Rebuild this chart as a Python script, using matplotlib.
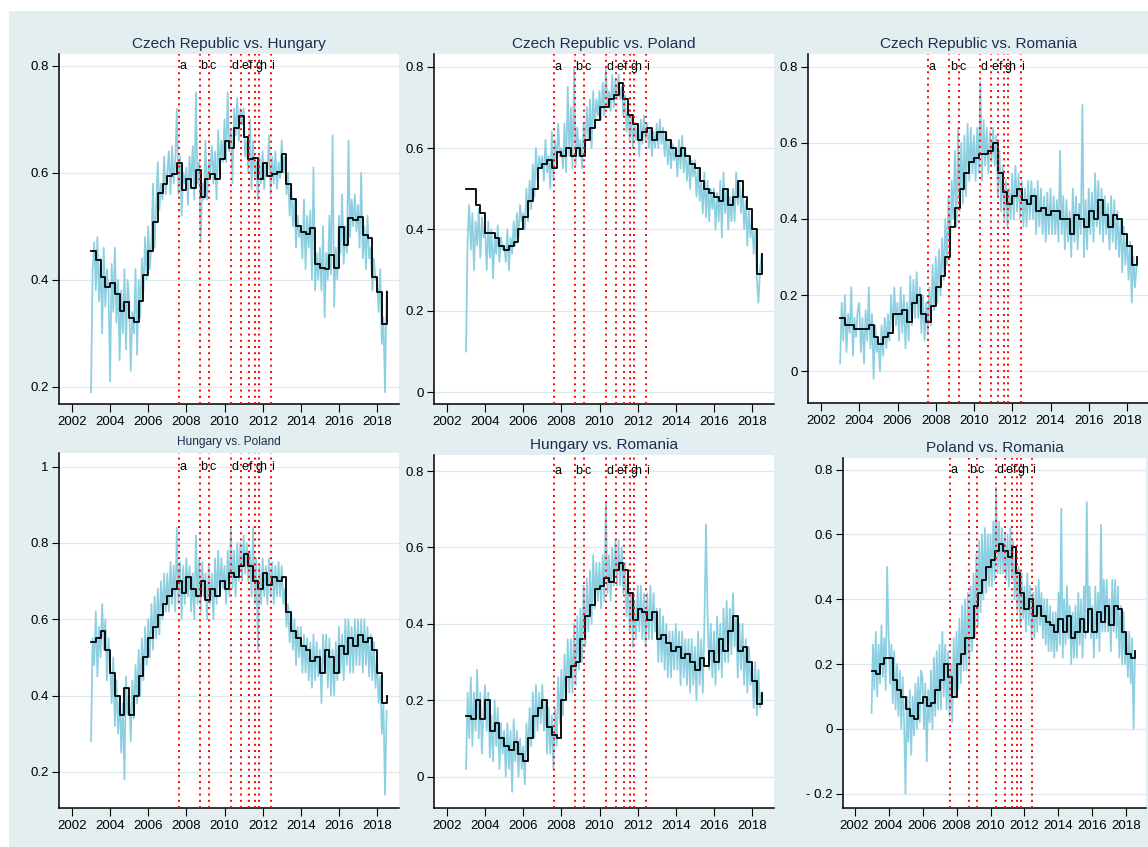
import numpy as np
import pandas as pd
import matplotlib
matplotlib.use("Agg")
import matplotlib.pyplot as plt

# ---------------- data ----------------
titles = ["Czech Republic vs. Hungary", "Czech Republic vs. Poland", "Czech Republic vs. Romania",
          "Hungary vs. Poland", "Hungary vs. Romania", "Poland vs. Romania"]

event_labels = ["a", "b", "c", "d", "e", "f", "g", "h", "i"]
event_dates = [2007.61, 2008.71, 2009.20, 2010.33, 2010.88, 2011.27, 2011.58, 2011.79, 2012.44]

x_ticks = [2002, 2004, 2006, 2008, 2010, 2012, 2014, 2016, 2018]

# quarterly series (2003Q1 ... 2018Q3)
cz_hu_quarterly = [0.453, 0.437, 0.406, 0.386, 0.395, 0.373, 0.342, 0.358, 0.328, 0.322, 0.360, 0.409,
                   0.453, 0.508, 0.562, 0.579, 0.594, 0.598, 0.618, 0.568, 0.588, 0.571, 0.605, 0.554,
                   0.589, 0.598, 0.588, 0.626, 0.660, 0.646, 0.683, 0.707, 0.667, 0.626, 0.627, 0.589,
                   0.618, 0.594, 0.598, 0.602, 0.635, 0.579, 0.551, 0.501, 0.489, 0.486, 0.496, 0.429,
                   0.423, 0.421, 0.446, 0.423, 0.498, 0.465, 0.516, 0.511, 0.517, 0.483, 0.479, 0.405,
                   0.377, 0.317, 0.378]
cz_pl_quarterly = [0.50, 0.50, 0.46, 0.44, 0.39, 0.39, 0.38, 0.36, 0.35, 0.36, 0.37, 0.40,
                   0.43, 0.47, 0.50, 0.55, 0.56, 0.57, 0.55, 0.59, 0.58, 0.60, 0.58, 0.60,
                   0.58, 0.62, 0.65, 0.67, 0.70, 0.70, 0.72, 0.73, 0.76, 0.72, 0.68, 0.66,
                   0.62, 0.64, 0.65, 0.62, 0.64, 0.64, 0.62, 0.60, 0.58, 0.60, 0.58, 0.56,
                   0.55, 0.52, 0.50, 0.49, 0.48, 0.47, 0.50, 0.46, 0.48, 0.52, 0.48, 0.45,
                   0.40, 0.29, 0.34]
cz_ro_quarterly = [0.14, 0.12, 0.12, 0.11, 0.11, 0.11, 0.12, 0.09, 0.07, 0.09, 0.10, 0.15,
                   0.15, 0.16, 0.13, 0.18, 0.20, 0.15, 0.13, 0.17, 0.22, 0.25, 0.30, 0.38,
                   0.43, 0.48, 0.52, 0.55, 0.56, 0.57, 0.57, 0.58, 0.60, 0.52, 0.47, 0.44,
                   0.46, 0.48, 0.45, 0.44, 0.46, 0.42, 0.43, 0.41, 0.42, 0.42, 0.40, 0.40,
                   0.36, 0.41, 0.40, 0.38, 0.42, 0.40, 0.45, 0.41, 0.38, 0.41, 0.40, 0.36,
                   0.33, 0.28, 0.30]
hu_pl_quarterly = [0.54, 0.55, 0.57, 0.52, 0.46, 0.40, 0.35, 0.42, 0.35, 0.40, 0.45, 0.50,
                   0.55, 0.58, 0.61, 0.64, 0.66, 0.68, 0.70, 0.67, 0.71, 0.68, 0.66, 0.70,
                   0.65, 0.68, 0.66, 0.70, 0.68, 0.72, 0.71, 0.74, 0.77, 0.74, 0.70, 0.68,
                   0.72, 0.69, 0.71, 0.70, 0.71, 0.62, 0.57, 0.55, 0.53, 0.52, 0.49, 0.50,
                   0.46, 0.52, 0.50, 0.46, 0.53, 0.51, 0.55, 0.53, 0.56, 0.54, 0.55, 0.52,
                   0.46, 0.38, 0.40]
hu_ro_quarterly = [0.16, 0.15, 0.20, 0.15, 0.20, 0.12, 0.14, 0.10, 0.08, 0.07, 0.09, 0.06,
                   0.04, 0.10, 0.16, 0.18, 0.20, 0.13, 0.11, 0.10, 0.20, 0.26, 0.29, 0.30,
                   0.36, 0.42, 0.45, 0.49, 0.50, 0.52, 0.51, 0.54, 0.56, 0.54, 0.48, 0.41,
                   0.44, 0.43, 0.41, 0.43, 0.36, 0.37, 0.35, 0.33, 0.34, 0.31, 0.32, 0.30,
                   0.28, 0.31, 0.29, 0.33, 0.30, 0.36, 0.33, 0.38, 0.42, 0.33, 0.34, 0.30,
                   0.25, 0.19, 0.22]
pl_ro_quarterly = [0.18, 0.17, 0.20, 0.22, 0.22, 0.15, 0.12, 0.10, 0.06, 0.04, 0.03, 0.08,
                   0.10, 0.07, 0.08, 0.12, 0.15, 0.20, 0.16, 0.10, 0.20, 0.23, 0.28, 0.28,
                   0.38, 0.42, 0.46, 0.50, 0.52, 0.55, 0.57, 0.55, 0.53, 0.56, 0.48, 0.42,
                   0.37, 0.40, 0.35, 0.38, 0.35, 0.33, 0.32, 0.30, 0.34, 0.30, 0.35, 0.28,
                   0.30, 0.34, 0.30, 0.37, 0.30, 0.36, 0.33, 0.38, 0.32, 0.38, 0.37, 0.30,
                   0.23, 0.22, 0.24]

# high-frequency series (monthly, Jan 2003 ... Jul 2018)
cz_hu_monthly = [
    0.19, 0.42, 0.47, 0.38, 0.48, 0.36, 0.44, 0.30, 0.46, 0.35, 0.42, 0.38,
    0.21, 0.43, 0.34, 0.46, 0.32, 0.40, 0.25, 0.38, 0.30, 0.42, 0.27, 0.40,
    0.36, 0.23, 0.34, 0.30, 0.42, 0.26, 0.40, 0.33, 0.44, 0.38, 0.48, 0.40,
    0.50, 0.42, 0.47, 0.58, 0.46, 0.54, 0.62, 0.53, 0.58, 0.55, 0.63, 0.56,
    0.60, 0.64, 0.56, 0.65, 0.58, 0.62, 0.72, 0.56, 0.63, 0.52, 0.60, 0.58,
    0.61, 0.54, 0.63, 0.58, 0.65, 0.55, 0.75, 0.58, 0.62, 0.47, 0.58, 0.55,
    0.66, 0.55, 0.62, 0.60, 0.65, 0.58, 0.64, 0.55, 0.68, 0.60, 0.66, 0.62,
    0.70, 0.62, 0.75, 0.64, 0.68, 0.58, 0.72, 0.67, 0.74, 0.66, 0.72, 0.69,
    0.72, 0.63, 0.66, 0.60, 0.70, 0.57, 0.66, 0.59, 0.62, 0.55, 0.63, 0.58,
    0.64, 0.57, 0.62, 0.60, 0.67, 0.56, 0.63, 0.58, 0.64, 0.57, 0.62, 0.59,
    0.66, 0.60, 0.63, 0.56, 0.60, 0.52, 0.58, 0.50, 0.55, 0.46, 0.52, 0.48,
    0.50, 0.44, 0.55, 0.42, 0.52, 0.46, 0.53, 0.40, 0.61, 0.38, 0.45, 0.40,
    0.46, 0.38, 0.50, 0.33, 0.45, 0.40, 0.52, 0.41, 0.67, 0.35, 0.46, 0.40,
    0.52, 0.45, 0.56, 0.43, 0.50, 0.45, 0.66, 0.48, 0.55, 0.50, 0.56, 0.49,
    0.54, 0.46, 0.60, 0.44, 0.50, 0.42, 0.52, 0.44, 0.46, 0.38, 0.44, 0.40,
    0.40, 0.34, 0.42, 0.28, 0.33, 0.19, 0.38]
cz_pl_monthly = [
    0.10, 0.38, 0.46, 0.35, 0.44, 0.30, 0.42, 0.36, 0.45, 0.33, 0.43, 0.38,
    0.40, 0.30, 0.42, 0.33, 0.40, 0.28, 0.38, 0.34, 0.41, 0.32, 0.38, 0.35,
    0.36, 0.32, 0.40, 0.30, 0.38, 0.34, 0.42, 0.36, 0.44, 0.38, 0.46, 0.42,
    0.44, 0.40, 0.50, 0.42, 0.52, 0.45, 0.56, 0.48, 0.60, 0.52, 0.58, 0.55,
    0.58, 0.52, 0.62, 0.54, 0.58, 0.50, 0.64, 0.52, 0.62, 0.56, 0.66, 0.58,
    0.60, 0.55, 0.66, 0.54, 0.75, 0.58, 0.70, 0.55, 0.80, 0.56, 0.65, 0.58,
    0.62, 0.55, 0.66, 0.60, 0.70, 0.62, 0.72, 0.60, 0.74, 0.65, 0.72, 0.68,
    0.74, 0.67, 0.76, 0.68, 0.80, 0.70, 0.74, 0.69, 0.78, 0.70, 0.77, 0.72,
    0.78, 0.72, 0.75, 0.68, 0.73, 0.64, 0.70, 0.62, 0.68, 0.60, 0.66, 0.62,
    0.66, 0.58, 0.67, 0.61, 0.68, 0.62, 0.66, 0.60, 0.65, 0.58, 0.64, 0.60,
    0.66, 0.60, 0.67, 0.61, 0.65, 0.58, 0.64, 0.56, 0.62, 0.55, 0.61, 0.57,
    0.60, 0.53, 0.62, 0.55, 0.63, 0.54, 0.60, 0.52, 0.58, 0.50, 0.57, 0.53,
    0.57, 0.48, 0.55, 0.47, 0.52, 0.44, 0.54, 0.43, 0.52, 0.42, 0.50, 0.45,
    0.50, 0.40, 0.49, 0.42, 0.52, 0.38, 0.54, 0.44, 0.50, 0.40, 0.48, 0.42,
    0.50, 0.42, 0.54, 0.46, 0.52, 0.44, 0.50, 0.40, 0.47, 0.36, 0.45, 0.38,
    0.42, 0.34, 0.40, 0.28, 0.22, 0.30, 0.34]
cz_ro_monthly = [
    0.02, 0.18, 0.08, 0.20, 0.05, 0.15, 0.10, 0.22, 0.04, 0.14, 0.09, 0.16,
    0.18, 0.05, 0.14, 0.02, 0.16, 0.08, 0.22, 0.06, 0.15, -0.02, 0.12, 0.05,
    0.08, 0.00, 0.12, 0.04, 0.14, 0.06, 0.15, 0.08, 0.20, 0.10, 0.22, 0.12,
    0.18, 0.08, 0.22, 0.10, 0.20, 0.06, 0.18, 0.08, 0.25, 0.12, 0.24, 0.14,
    0.26, 0.14, 0.22, 0.10, 0.20, 0.08, 0.18, 0.10, 0.22, 0.12, 0.28, 0.16,
    0.30, 0.18, 0.32, 0.20, 0.35, 0.24, 0.40, 0.28, 0.46, 0.32, 0.50, 0.40,
    0.58, 0.38, 0.64, 0.42, 0.60, 0.44, 0.62, 0.46, 0.65, 0.50, 0.64, 0.52,
    0.62, 0.50, 0.64, 0.52, 0.76, 0.50, 0.66, 0.54, 0.64, 0.52, 0.63, 0.55,
    0.64, 0.54, 0.62, 0.46, 0.58, 0.42, 0.54, 0.40, 0.50, 0.38, 0.48, 0.40,
    0.52, 0.40, 0.54, 0.42, 0.52, 0.40, 0.50, 0.38, 0.48, 0.38, 0.50, 0.40,
    0.50, 0.40, 0.48, 0.36, 0.50, 0.38, 0.48, 0.36, 0.46, 0.34, 0.47, 0.36,
    0.48, 0.36, 0.46, 0.36, 0.45, 0.34, 0.58, 0.36, 0.46, 0.32, 0.45, 0.34,
    0.42, 0.30, 0.48, 0.34, 0.46, 0.32, 0.44, 0.36, 0.70, 0.30, 0.45, 0.32,
    0.48, 0.36, 0.47, 0.34, 0.52, 0.38, 0.50, 0.36, 0.48, 0.34, 0.46, 0.36,
    0.44, 0.32, 0.46, 0.34, 0.45, 0.32, 0.42, 0.30, 0.40, 0.26, 0.38, 0.28,
    0.36, 0.24, 0.34, 0.18, 0.30, 0.22, 0.28]
hu_pl_monthly = [
    0.28, 0.55, 0.48, 0.62, 0.45, 0.58, 0.50, 0.64, 0.52, 0.60, 0.44, 0.55,
    0.48, 0.38, 0.50, 0.32, 0.44, 0.30, 0.40, 0.25, 0.38, 0.18, 0.45, 0.35,
    0.40, 0.28, 0.44, 0.34, 0.48, 0.38, 0.52, 0.40, 0.55, 0.44, 0.58, 0.48,
    0.60, 0.50, 0.64, 0.52, 0.66, 0.55, 0.68, 0.56, 0.70, 0.60, 0.72, 0.62,
    0.72, 0.62, 0.75, 0.64, 0.74, 0.62, 0.84, 0.64, 0.75, 0.60, 0.74, 0.64,
    0.76, 0.66, 0.74, 0.62, 0.72, 0.60, 0.82, 0.64, 0.76, 0.62, 0.75, 0.66,
    0.72, 0.60, 0.74, 0.64, 0.72, 0.60, 0.76, 0.64, 0.78, 0.66, 0.76, 0.68,
    0.74, 0.64, 0.78, 0.66, 0.84, 0.68, 0.78, 0.66, 0.80, 0.70, 0.80, 0.70,
    0.82, 0.72, 0.80, 0.70, 0.78, 0.66, 0.84, 0.64, 0.76, 0.52, 0.74, 0.64,
    0.76, 0.66, 0.74, 0.64, 0.76, 0.66, 0.75, 0.64, 0.74, 0.66, 0.75, 0.66,
    0.74, 0.64, 0.68, 0.58, 0.64, 0.54, 0.62, 0.52, 0.60, 0.48, 0.58, 0.50,
    0.58, 0.46, 0.56, 0.46, 0.55, 0.44, 0.54, 0.42, 0.56, 0.44, 0.54, 0.45,
    0.52, 0.38, 0.56, 0.46, 0.56, 0.42, 0.55, 0.40, 0.52, 0.40, 0.54, 0.44,
    0.58, 0.46, 0.56, 0.44, 0.60, 0.48, 0.60, 0.46, 0.58, 0.46, 0.60, 0.48,
    0.60, 0.48, 0.60, 0.46, 0.60, 0.48, 0.58, 0.45, 0.56, 0.44, 0.54, 0.42,
    0.50, 0.38, 0.45, 0.30, 0.38, 0.14, 0.36]
hu_ro_monthly = [
    0.02, 0.22, 0.10, 0.26, 0.08, 0.22, 0.12, 0.28, 0.10, 0.22, 0.06, 0.18,
    0.24, 0.12, 0.22, 0.05, 0.16, 0.04, 0.20, 0.08, 0.18, 0.02, 0.14, 0.06,
    0.12, 0.00, 0.14, 0.02, 0.12, -0.04, 0.15, 0.04, 0.12, 0.00, 0.10, 0.02,
    0.08, -0.02, 0.14, 0.04, 0.18, 0.08, 0.22, 0.10, 0.24, 0.12, 0.22, 0.14,
    0.24, 0.12, 0.20, 0.06, 0.18, 0.06, 0.16, 0.02, 0.18, 0.08, 0.26, 0.14,
    0.28, 0.16, 0.32, 0.20, 0.36, 0.22, 0.36, 0.22, 0.40, 0.24, 0.42, 0.28,
    0.44, 0.30, 0.50, 0.34, 0.52, 0.38, 0.54, 0.40, 0.58, 0.44, 0.56, 0.46,
    0.56, 0.44, 0.58, 0.46, 0.72, 0.48, 0.58, 0.46, 0.60, 0.50, 0.62, 0.50,
    0.62, 0.50, 0.60, 0.48, 0.56, 0.42, 0.52, 0.38, 0.48, 0.34, 0.46, 0.36,
    0.50, 0.38, 0.50, 0.36, 0.48, 0.34, 0.48, 0.36, 0.50, 0.36, 0.48, 0.38,
    0.44, 0.30, 0.44, 0.30, 0.42, 0.28, 0.40, 0.26, 0.38, 0.26, 0.38, 0.28,
    0.40, 0.28, 0.38, 0.24, 0.38, 0.26, 0.36, 0.24, 0.36, 0.22, 0.36, 0.24,
    0.34, 0.20, 0.38, 0.24, 0.36, 0.22, 0.40, 0.66, 0.42, 0.28, 0.40, 0.26,
    0.38, 0.24, 0.42, 0.28, 0.40, 0.26, 0.44, 0.30, 0.46, 0.30, 0.44, 0.32,
    0.48, 0.34, 0.42, 0.26, 0.40, 0.28, 0.40, 0.24, 0.36, 0.22, 0.34, 0.24,
    0.30, 0.18, 0.30, 0.16, 0.28, 0.18, 0.22]
pl_ro_monthly = [
    0.05, 0.26, 0.12, 0.30, 0.10, 0.26, 0.14, 0.32, 0.16, 0.28, 0.12, 0.50,
    0.30, 0.14, 0.26, 0.08, 0.24, 0.06, 0.20, 0.04, 0.18, 0.00, 0.16, 0.02,
    -0.20, 0.10, -0.04, 0.12, -0.08, 0.10, -0.02, 0.14, 0.00, 0.16, 0.02, 0.18,
    0.16, 0.00, 0.14, -0.10, 0.12, 0.02, 0.18, 0.00, 0.22, 0.04, 0.24, 0.06,
    0.26, 0.06, 0.30, 0.10, 0.26, 0.06, 0.24, 0.04, 0.20, 0.02, 0.28, 0.10,
    0.30, 0.12, 0.34, 0.14, 0.38, 0.18, 0.40, 0.18, 0.42, 0.20, 0.44, 0.24,
    0.48, 0.28, 0.54, 0.32, 0.58, 0.36, 0.60, 0.40, 0.62, 0.42, 0.60, 0.44,
    0.60, 0.44, 0.64, 0.46, 0.745, 0.48, 0.64, 0.48, 0.62, 0.48, 0.60, 0.46,
    0.60, 0.44, 0.62, 0.46, 0.58, 0.40, 0.54, 0.36, 0.50, 0.32, 0.48, 0.34,
    0.44, 0.30, 0.48, 0.32, 0.44, 0.28, 0.42, 0.28, 0.44, 0.30, 0.46, 0.32,
    0.42, 0.28, 0.40, 0.26, 0.40, 0.24, 0.38, 0.24, 0.36, 0.22, 0.36, 0.24,
    0.42, 0.26, 0.68, 0.22, 0.40, 0.26, 0.44, 0.28, 0.38, 0.20, 0.36, 0.22,
    0.38, 0.22, 0.42, 0.26, 0.40, 0.22, 0.44, 0.28, 0.70, 0.30, 0.44, 0.28,
    0.38, 0.22, 0.44, 0.28, 0.42, 0.24, 0.63, 0.30, 0.46, 0.30, 0.46, 0.30,
    0.40, 0.24, 0.46, 0.30, 0.46, 0.28, 0.44, 0.22, 0.38, 0.20, 0.36, 0.20,
    0.30, 0.16, 0.30, 0.14, 0.28, 0.00, 0.22]

y_ticks = [[0.2, 0.4, 0.6, 0.8], [0, 0.2, 0.4, 0.6, 0.8], [0, 0.2, 0.4, 0.6, 0.8],
           [0.2, 0.4, 0.6, 0.8, 1.0], [0, 0.2, 0.4, 0.6, 0.8], [-0.2, 0, 0.2, 0.4, 0.6, 0.8]]

monthly_series = [cz_hu_monthly, cz_pl_monthly, cz_ro_monthly, hu_pl_monthly, hu_ro_monthly, pl_ro_monthly]
quarterly_series = [cz_hu_quarterly, cz_pl_quarterly, cz_ro_quarterly, hu_pl_quarterly, hu_ro_quarterly, pl_ro_quarterly]

# dates as decimal years
q_per = pd.period_range("2003Q1", periods=len(cz_hu_quarterly), freq="Q")
q_x = q_per.year + (q_per.quarter - 1) / 4.0
m_per = pd.period_range("2003-01", periods=len(cz_hu_monthly), freq="M")
m_x = m_per.year + (m_per.month - 1) / 12.0

# ---------------- layout / style ----------------
W, H = 1148, 847
plt.rcParams["font.family"] = ["Liberation Sans", "DejaVu Sans"]
fig = plt.figure(figsize=(W / 100, H / 100), dpi=100)
fig.patch.set_facecolor("white")
bg = fig.add_axes([9 / W, 0, 1 - 9 / W, (H - 11) / H], zorder=-10)
bg.set_facecolor("#E2EEF0")
bg.set_xticks([])
bg.set_yticks([])
for s in bg.spines.values():
    s.set_visible(False)

# pixel boxes: left, right, top, bottom
boxes = [(59, 399, 54, 404), (434, 774, 54, 404), (808, 1149, 54, 403),
         (59, 399, 453, 808), (434, 774, 455, 808), (843, 1146, 458, 808)]
ylims = [(0.168, 0.822), (-0.029, 0.831), (-0.084, 0.834),
         (0.105, 1.036), (-0.082, 0.842), (-0.244, 0.836)]
xlim = (2001.32, 2019.15)
title_sizes = [11.1, 11.1, 11.1, 8.6, 11.1, 11.1]
title_pads = [4, 4, 4, 5.5, 4, 4]

CYAN = "#8CCFE1"
GRID = "#DCEAF0"
TITLE_C = "#1E2C50"

for k in range(6):
    l, r, t, b = boxes[k]
    ax = fig.add_axes([l / W, 1 - b / H, (r - l) / W, (b - t) / H])
    ax.set_facecolor("white")
    ax.set_xlim(*xlim)
    ax.set_ylim(*ylims[k])
    for yv in y_ticks[k]:
        ax.axhline(yv, color=GRID, lw=0.9, zorder=0)
    ax.plot(m_x, monthly_series[k], color=CYAN, lw=1.25, zorder=2)
    ax.step(q_x, quarterly_series[k], where="post", color="black", lw=1.3, zorder=3)
    top = y_ticks[k][-1]
    for d, lab in zip(event_dates, event_labels):
        ax.axvline(d, color="red", lw=1.4, ls=(0, (1, 2.2)), zorder=4)
        ax.text(d + 0.02, top, lab, ha="left", va="center", fontsize=9.0, color="black", zorder=5)
    ax.set_xticks(x_ticks)
    ax.set_xticklabels([str(v) for v in x_ticks])
    ax.set_yticks(y_ticks[k])
    ax.set_yticklabels([f"{v:g}".replace("-", "- ") for v in y_ticks[k]])
    for s in ["top", "right"]:
        ax.spines[s].set_visible(False)
    for s in ["left", "bottom"]:
        ax.spines[s].set_linewidth(1.1)
        ax.spines[s].set_color("black")
    ax.tick_params(direction="out", length=5.4, width=0.8, labelsize=9.5, colors="black", pad=2.0)
    ax.tick_params(axis="x", pad=3.0)
    ax.set_title(titles[k], fontsize=title_sizes[k], color=TITLE_C, pad=title_pads[k])

fig.savefig("out.png", dpi=100)
